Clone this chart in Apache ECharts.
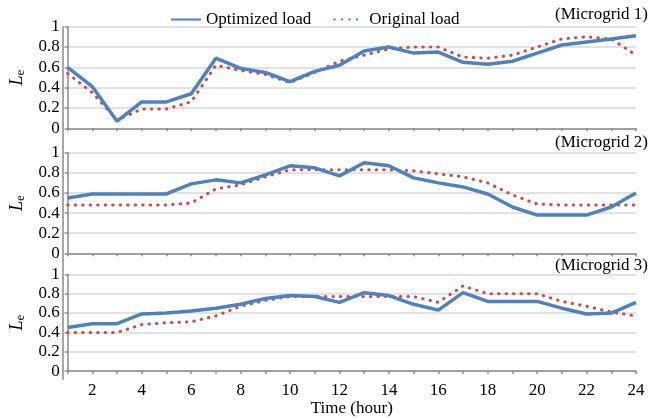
<!DOCTYPE html>
<html><head><meta charset="utf-8">
<script src="https://cdn.jsdelivr.net/npm/echarts@6/dist/echarts.min.js"></script>
<style>html,body{margin:0;padding:0;background:#fff}#c{width:652px;height:418px}</style>
</head><body><div id="c"></div>
<script>
const hours = [1,2,3,4,5,6,7,8,9,10,11,12,13,14,15,16,17,18,19,20,21,22,23,24];
const panelTitles = ['(Microgrid 1)','(Microgrid 2)','(Microgrid 3)'];
const seriesNames = ['Optimized load','Original load'];
const optimized1 = [0.60,0.41,0.07,0.26,0.26,0.34,0.69,0.59,0.55,0.46,0.56,0.62,0.76,0.80,0.74,0.75,0.65,0.63,0.66,0.74,0.82,0.85,0.88,0.91];
const original1  = [0.54,0.35,0.08,0.19,0.19,0.26,0.62,0.57,0.53,0.45,0.55,0.66,0.72,0.78,0.80,0.80,0.70,0.69,0.72,0.80,0.88,0.90,0.88,0.72];
const optimized2 = [0.55,0.59,0.59,0.59,0.59,0.69,0.73,0.70,0.78,0.87,0.85,0.77,0.90,0.87,0.75,0.70,0.66,0.59,0.46,0.38,0.38,0.38,0.46,0.60];
const original2  = [0.48,0.48,0.48,0.48,0.48,0.50,0.64,0.68,0.76,0.83,0.83,0.83,0.83,0.83,0.82,0.79,0.76,0.70,0.58,0.49,0.48,0.48,0.48,0.48];
const optimized3 = [0.45,0.49,0.49,0.59,0.60,0.62,0.65,0.69,0.75,0.78,0.77,0.71,0.81,0.78,0.69,0.63,0.81,0.72,0.72,0.72,0.65,0.59,0.60,0.71];
const original3  = [0.40,0.40,0.40,0.48,0.50,0.51,0.57,0.67,0.73,0.77,0.77,0.77,0.77,0.77,0.77,0.71,0.88,0.80,0.80,0.80,0.72,0.67,0.61,0.57];
const yTicks = [0,0.2,0.4,0.6,0.8,1];

const FONT = 'Liberation Serif';
const BLUE = '#4F81BD', RED = '#C0504D';
const AXIS = '#8a8a8a', GRID = '#d9d9d9';
const optimized = [optimized1, optimized2, optimized3];
const original = [original1, original2, original3];
const pair = arr => hours.map((h, i) => [h, arr[i]]);

const grids = [
  {left: 63, right: 16, top: 26.7, height: 101.6},
  {left: 63, right: 16, top: 152.7, height: 100.6},
  {left: 63, right: 16, top: 274.3, height: 105}
];
const xAxes = [], yAxes = [], series = [], titles = [];
grids.forEach((g, i) => {
  const last = i === 2;
  xAxes.push({
    type: 'value', gridIndex: i, min: hours[0], max: hours[hours.length - 1], interval: 1,
    axisLine: {lineStyle: {color: AXIS, width: 1.5}},
    axisTick: {show: true, length: 3, lineStyle: {color: AXIS, width: 1.5}},
    splitLine: {show: false},
    axisLabel: {show: last, margin: 11, color: '#000', fontFamily: FONT, fontSize: 17,
      formatter: v => (v % 2 === 0 ? String(v) : '')},
    name: last ? 'Time (hour)' : '', nameLocation: 'middle', nameGap: 24,
    nameTextStyle: {color: '#000', fontFamily: FONT, fontSize: 17}
  });
  yAxes.push({
    type: 'value', gridIndex: i, min: yTicks[0], max: yTicks[yTicks.length - 1], interval: 0.2,
    axisLine: {show: true, lineStyle: {color: AXIS, width: 1.5}},
    axisTick: {show: true, length: 3, lineStyle: {color: AXIS, width: 1.5}},
    splitLine: {show: true, lineStyle: {color: GRID, width: 1.5}},
    axisLabel: {margin: 8, color: '#000', fontFamily: FONT, fontSize: 17},
    name: '{l|L}{e|e}', nameLocation: 'middle', nameRotate: 90, nameGap: 36,
    nameTextStyle: {rich: {
      l: {fontFamily: FONT, fontStyle: 'italic', fontSize: 18, color: '#000'},
      e: {fontFamily: FONT, fontSize: 13, color: '#000', padding: [8, 0, 0, 0]}
    }}
  });
  series.push({
    name: seriesNames[1], type: 'line', xAxisIndex: i, yAxisIndex: i, data: pair(original[i]),
    symbol: 'none', lineStyle: {color: RED, width: 3, type: [0.5, 7], cap: 'round'},
    itemStyle: {color: RED}, z: 2
  });
  series.push({
    name: seriesNames[0], type: 'line', xAxisIndex: i, yAxisIndex: i, data: pair(optimized[i]),
    symbol: 'none', lineStyle: {color: BLUE, width: 3.5}, itemStyle: {color: BLUE}, z: 3
  });
});
// continuous left axis line across the three panels
grids.push({left: 63, right: 16, top: 26.7, bottom: 38.7});
xAxes.push({type: 'value', gridIndex: 3, show: false, min: 0, max: 1});
yAxes.push({type: 'value', gridIndex: 3, min: 0, max: 1, axisLine: {show: true, lineStyle: {color: AXIS, width: 1.5}},
  axisTick: {show: false}, axisLabel: {show: false}, splitLine: {show: false}});

const titleTops = [6.5, 134.5, 257.5];
panelTitles.forEach((t, i) => titles.push({text: t, right: 4, top: titleTops[i], padding: 0,
  textStyle: {fontFamily: FONT, fontSize: 17, fontWeight: 'normal', color: '#000'}}));

const chart = echarts.init(document.getElementById('c'), null, {renderer: 'canvas'});
chart.setOption({
  animation: false,
  title: titles,
  legend: {
    data: seriesNames, left: 165, top: 6, itemWidth: 30, itemHeight: 12, itemGap: 22,
    itemStyle: {opacity: 0, borderWidth: 0},
    textStyle: {fontFamily: FONT, fontSize: 17, color: '#000'}
  },
  grid: grids, xAxis: xAxes, yAxis: yAxes, series: series
});
</script></body></html>
